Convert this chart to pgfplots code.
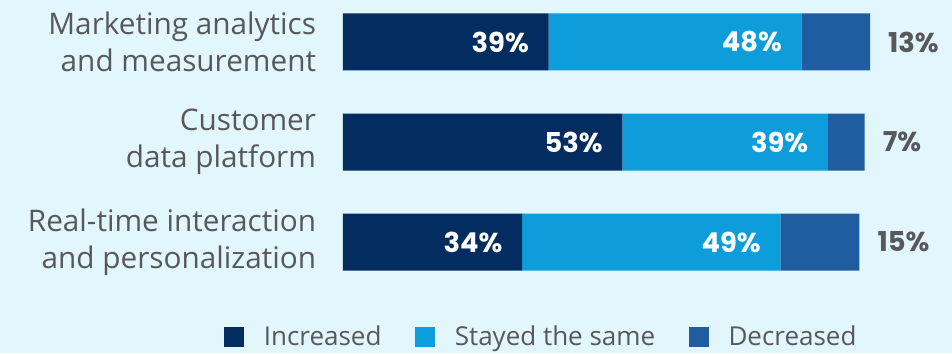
\documentclass[border=0pt]{standalone}
\usepackage{pgfplots}
\pgfplotsset{compat=1.18}
\usepackage{fontspec}
\setmainfont{Open Sans}
\newfontfamily\numfont{Poppins}

\definecolor{bg}{HTML}{E2F6FD}
\definecolor{cInc}{HTML}{032D60}
\definecolor{cSame}{HTML}{0D9DDA}
\definecolor{cDec}{HTML}{1F5DA0}
\definecolor{txt}{HTML}{58585C}

\begin{document}
\begin{tikzpicture}
  % picture frame, 952 x 353 px at 0.75pt per px
  \path[use as bounding box, fill=bg] (-257.25pt,-38.25pt) rectangle (456.75pt,226.5pt);
  \begin{axis}[
      scale only axis,
      width=395.25pt, height=226.5pt,
      xbar stacked,
      bar width=42.75pt,
      xmin=0, xmax=100,
      y dir=reverse,
      ymin=-0.42, ymax=2.6,
      ytick={0,1,2},
      yticklabels={Marketing analytics\\and measurement,
                   Customer\\data platform,
                   Real-time interaction\\and personalization},
      yticklabel style={align=right, inner sep=0pt, xshift=-20pt,
                        font=\fontsize{22.3}{28}\selectfont, text=txt},
      xtick=\empty,
      major tick length=0pt,
      axis line style={draw=none},
      /pgf/number format/assume math mode=true,
      point meta=rawx,
      visualization depends on={rawx \as \rawval},
      nodes near coords={\pgfmathprintnumber[fixed,precision=0]{\pgfplotspointmeta}\%},
      every node near coord/.append style={font=\numfont\bfseries\fontsize{20.5}{24}\selectfont},
      legend style={draw=none, fill=none, legend columns=3,
                    at={(0.3767,-0.1159)}, anchor=center,
                    font=\fontsize{19.5}{24}\selectfont, text=txt,
                    /tikz/every odd column/.append style={column sep=13pt},
                    /tikz/every even column/.append style={column sep=23pt}},
      legend image code/.code={\fill[#1] (0pt,-7.5pt) rectangle (15pt,7.5pt);},
    ]
    % labels sit at the middle of each segment; shift them to its end
    \addplot[fill=cInc, draw=none,
      every node near coord/.append style={anchor=east, xshift={\rawval*1.97625pt-11.25pt}, text=white}]
      coordinates {(39,0) (53,1) (34,2)};
    \addlegendentry{Increased}
    \addplot[fill=cSame, draw=none,
      every node near coord/.append style={anchor=east, xshift={\rawval*1.97625pt-11.25pt}, text=white}]
      coordinates {(48,0) (39,1) (49,2)};
    \addlegendentry{Stayed the same}
    \addplot[fill=cDec, draw=none,
      every node near coord/.append style={anchor=west, xshift={\rawval*1.97625pt+10pt}, text=txt}]
      coordinates {(13,0) (7,1) (15,2)};
    \addlegendentry{Decreased}
  \end{axis}
\end{tikzpicture}
\end{document}
